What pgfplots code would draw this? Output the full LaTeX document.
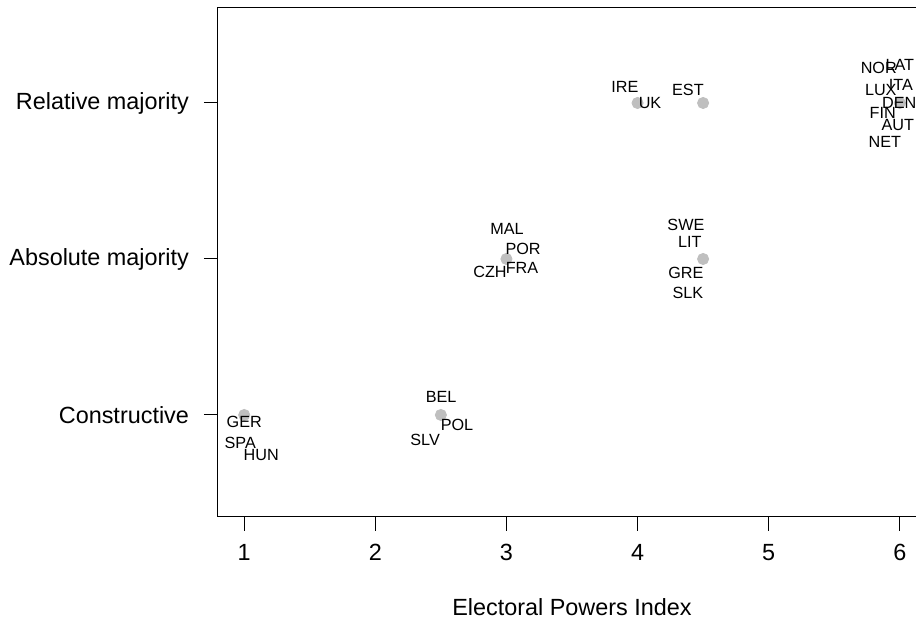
\documentclass[border=0pt]{standalone}
\usepackage{fontspec}
\setmainfont{Liberation Sans}
\usepackage{pgfplots}
\usepackage{pgfplotstable}
\pgfplotsset{compat=1.18}
\pgfplotstableread{
x y
1 1
2.5 1
3 2
4.5 2
4 3
4.5 3
6 3
}\pts
\pgfplotstableread{
x y label
1.000 0.955 GER
0.970 0.821 SPA
1.130 0.744 HUN
2.502 1.115 BEL
2.623 0.936 POL
2.380 0.840 SLV
3.005 2.192 MAL
3.127 2.064 POR
3.119 1.942 FRA
2.875 1.917 CZH
4.369 2.218 SWE
4.399 2.109 LIT
4.369 1.910 GRE
4.384 1.782 SLK
3.904 3.103 IRE
4.095 3.000 UK
4.384 3.083 EST
5.840 3.224 NOR
6.000 3.244 LAT
5.855 3.083 LUX
6.008 3.115 ITA
5.996 3.000 DEN
5.870 2.936 FIN
5.985 2.859 AUT
5.886 2.750 NET
}\labs
\begin{document}
\begin{tikzpicture}
\begin{axis}[name=ax, scale only axis, width=354pt, height=254.5pt,
  xmin=0.8, xmax=6.2, ymin=0.346, ymax=3.609,
  axis line style={line width=0.5pt},
  xtick={1,2,3,4,5,6}, ytick={1,2,3},
  yticklabels={Constructive,Absolute majority,Relative majority},
  tick align=outside, tick pos=left, major tick length=7pt,
  tick style={black, line width=0.5pt},
  /pgf/number format/assume math mode=true,
  ticklabel style={font=\fontsize{11.7}{14}\selectfont},
  xticklabel style={yshift=-3pt},
  yticklabel style={xshift=-4pt},
  xlabel={Electoral Powers Index},
  xlabel style={font=\fontsize{11.7}{14}\selectfont, at={(axis description cs:0.5,0)}, anchor=center, yshift=-45pt},
  clip=false]
\addplot[only marks, mark=*, mark size=2.8pt, color=gray!50] table[x=x,y=y] {\pts};
\addplot[draw=none, mark=none, nodes near coords, point meta=explicit symbolic,
  nodes near coords align={anchor=center},
  every node near coord/.append style={anchor=center, inner sep=0pt, font=\fontsize{8.1}{9}\selectfont, text=black}]
  table[x=x,y=y,meta=label] {\labs};
\end{axis}
\pgfresetboundingbox
\path ([xshift=-109pt,yshift=-56pt]ax.south west) rectangle ([xshift=349pt,yshift=4pt]ax.north west);
\end{tikzpicture}
\end{document}
